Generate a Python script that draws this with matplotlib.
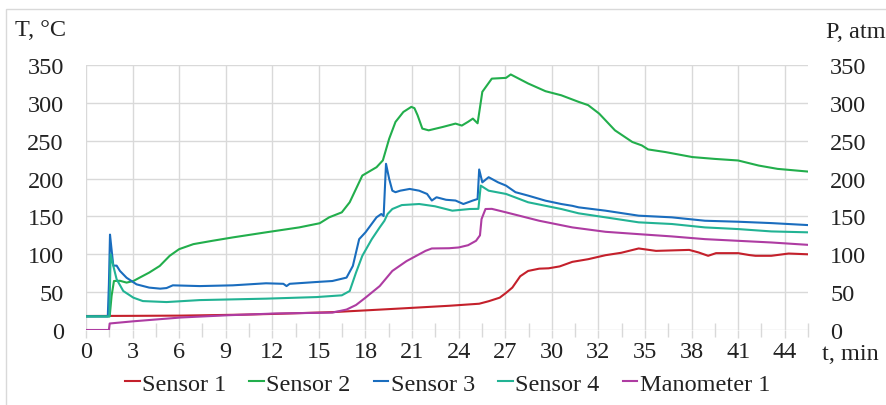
import matplotlib
matplotlib.use("Agg")
import matplotlib.pyplot as plt
from matplotlib.patches import Rectangle

# ---------------------------------------------------------------
# Measured temperatures (deg C) and pressure (atm) versus time (min)
# ---------------------------------------------------------------
SENSOR1_T = [0, 3, 6, 10, 12, 15.6, 17.7, 20, 23.0, 24.9, 25.5, 26.2, 26.6, 27.0, 27.5, 28.0, 28.7,
             29.3, 30.0, 30.8, 31.8, 32.9, 33.9, 35.0, 36.1, 38.2, 38.8, 39.4, 39.9, 41.3, 42.0,
             42.4, 43.4, 44.5, 45.7]
SENSOR1 = [18.5, 18.7, 19, 20.3, 21.3, 23.6, 25.9, 28.5, 32, 34.7, 38, 42.7, 49, 56, 71, 78, 81,
           81.5, 84, 90, 93.5, 98.8, 102, 107.7, 104.5, 105.8, 102.4, 98, 101.5, 101.5, 99,
           98, 98, 101, 100]

SENSOR2_T = [0, 1.5, 1.62, 1.77, 2.15, 2.57, 3.0, 3.4, 4.0, 4.67, 5.3, 5.9, 6.8, 8.0, 9.3, 11.4,
             13.5, 14.8, 15.4, 16.2, 16.7, 17.5, 18.4, 18.8, 19.2, 19.6, 20.1, 20.6, 20.8, 21.0,
             21.3, 21.7, 22.6, 23.4, 23.8, 24.2, 24.5, 24.8, 25.1, 25.7, 26.6, 26.9, 28.0, 29.1,
             30.1, 31.2, 31.8, 32.5, 33.5, 34.6, 35.2, 35.6, 36.7, 38.4, 39.8, 41.3, 42.6, 43.8,
             45.7]
SENSOR2 = [18, 18, 45, 64.7, 65, 62.6, 64.7, 69.2, 75.8, 84.6, 98, 106.8, 113.4, 117.8, 122.3, 129,
           135.5, 141, 148.8, 155.4, 168.7, 204, 215, 224, 252.6, 274.8, 288, 294.7, 293, 283.6,
           266, 263.7, 268.2, 272.6, 270, 275, 279.2, 273, 314.6, 332, 333, 337.5, 325.6, 315.4,
           310, 301.3, 297, 285.8, 263.7, 248.3, 243.8, 238.5, 235, 228.4, 226, 223.9, 217.2, 212.8,
           209.3]

SENSOR3_T = [0, 1.38, 1.45, 1.52, 1.6, 1.73, 1.94, 2.15, 2.57, 3.2, 4.0, 4.7, 5.1, 5.5, 7.2, 9.3,
             11.4, 12.5, 12.7, 12.9, 14.6, 15.6, 16.5, 16.9, 17.3, 17.7, 18.4, 18.7, 18.85, 19.0,
             19.2, 19.4, 19.6, 19.9, 20.5, 21.1, 21.6, 21.9, 22.2, 22.8, 23.4, 23.9, 24.5, 24.8,
             24.9, 25.1, 25.5, 26.1, 26.6, 27.2, 28.0, 29.1, 30.1, 30.8, 31.2, 32.9, 35.0, 37.1,
             39.2, 41.3, 43.4, 45.7]
SENSOR3 = [18, 18, 60, 126, 110, 85, 85, 78, 69, 60.3, 56, 54.6, 55.4, 59, 58, 59,
           61.7, 61, 58, 61, 63.4, 64.7, 69.2, 84.6, 120, 129, 148.8, 153.2, 150.5, 219.5,
           199.6, 184, 182, 184, 186.3, 184, 179.7, 171, 175.3, 172, 171, 166.4, 171, 173,
           212, 195, 201.8, 195, 190.7, 182, 177.5, 170.8, 166.4, 164, 162, 157.6, 151, 148.8,
           144.3, 143, 141.2, 138.6]

SENSOR4_T = [0, 1.48, 1.56, 1.73, 1.94, 2.36, 3.0, 3.6, 5.1, 7.2, 11.4, 14.6, 16.2, 16.7, 17.1,
             17.5, 18.1, 18.6, 18.9, 19.1, 19.4, 20.0, 21.1, 21.7, 22.1, 23.2, 24.3, 24.85, 25.0,
             25.5, 26.6, 28.0, 30.1, 31.2, 32.9, 35.0, 37.1, 39.2, 41.3, 43.4, 45.7]
SENSOR4 = [18, 18, 100, 84.6, 67, 51.5, 42.7, 38.2, 36.9, 39.5, 41.4, 43.5, 45.8, 51.5, 75.8,
           98, 120, 135.5, 144.3, 153.2, 159.8, 165, 166.4, 164.6, 163.4, 157.6, 159.8, 160, 190.7,
           184, 179.7, 168.7, 159.8, 154.1, 148.8, 142.2, 140, 135.5, 133.3, 130.2, 129]

MANOMETER1_T = [0, 1.45, 1.5, 3.0, 6.0, 9.0, 12.0, 15.6, 16.5, 17.1, 17.7, 18.6, 19.4, 20.3, 21.5,
                21.9, 23.0, 23.6, 24.2, 24.7, 24.95, 25.05, 25.3, 25.7, 26.6, 28.7, 30.8, 32.9,
                35.0, 37.1, 39.2, 41.3, 43.4, 45.7]
MANOMETER1 = [0, 0, 8.6, 11.5, 16.5, 19.5, 21.8, 23, 27, 33, 42.7, 58, 78, 91, 104.5,
              107.7, 108, 109, 112, 117.8, 125, 146.5, 159.8, 160, 155.4, 144.3, 135.5, 129.7,
              126.6, 123.6, 120, 117.8, 115.6, 112.5]

SERIES_NAMES = ["Sensor 1", "Sensor 2", "Sensor 3", "Sensor 4", "Manometer 1"]
X_TICK_LABELS = ["0", "3", "6", "9", "12", "15", "18", "21", "24", "27", "30", "32", "35", "38", "41", "44"]
Y_TICKS = [0, 50, 100, 150, 200, 250, 300, 350]

# Styling
COLORS = ["#C4202B", "#22AE4C", "#1A6DBE", "#22B394", "#AE3CA2"]
GRID_COLOR = "#D9D9D9"
TEXT_COLOR = "#222222"
FONT_SIZE = 17.5
TICK_STEP = 2.95  # minutes between labelled categories
LINE_WIDTH = 1.5

plt.rcParams["font.family"] = ["Liberation Serif", "DejaVu Serif"]
plt.rcParams["text.color"] = TEXT_COLOR
plt.rcParams["xtick.color"] = TEXT_COLOR
plt.rcParams["ytick.color"] = TEXT_COLOR


def style_axis(axis):
    for spine in axis.spines.values():
        spine.set_visible(False)
    axis.set_ylim(0, 350)
    axis.set_yticks(Y_TICKS)
    axis.tick_params(axis="y", length=0, pad=16, labelsize=FONT_SIZE)


def main():
    fig = plt.figure(figsize=(8.87, 4.06), dpi=100)
    ax = fig.add_axes([86 / 887, 1 - 331 / 406, (808 - 86) / 887, (331 - 66) / 406])
    style_axis(ax)

    # category-like time axis with labels every TICK_STEP minutes
    n = len(X_TICK_LABELS)
    ax.set_xlim(0, TICK_STEP * (n - 0.5))
    ax.set_xticks([i * TICK_STEP for i in range(n)])
    ax.set_xticklabels(X_TICK_LABELS)
    ax.set_xticks([(i + 0.5) * TICK_STEP for i in range(n)], minor=True)
    ax.tick_params(axis="x", which="major", length=6, width=1, color=GRID_COLOR,
                   direction="out", pad=2, labelsize=FONT_SIZE)
    ax.tick_params(axis="x", which="minor", length=10, width=1, color=GRID_COLOR,
                   direction="inout")
    ax.grid(True, which="major", color=GRID_COLOR, linewidth=1)
    ax.set_axisbelow(True)

    temps = [(SENSOR1_T, SENSOR1), (SENSOR2_T, SENSOR2), (SENSOR3_T, SENSOR3), (SENSOR4_T, SENSOR4)]
    handles = []
    for (t, v), name, color in zip(temps, SERIES_NAMES[:4], COLORS[:4]):
        line, = ax.plot(t, v, color=color, lw=LINE_WIDTH, label=name)
        handles.append(line)

    # pressure on the secondary axis (same 0..350 scale)
    ax2 = ax.twinx()
    style_axis(ax2)
    line, = ax2.plot(MANOMETER1_T, MANOMETER1, color=COLORS[4], lw=LINE_WIDTH, label=SERIES_NAMES[4])
    handles.append(line)

    fig.text(41 / 887, 1 - 31 / 406, "T, °C", ha="center", va="center", fontsize=FONT_SIZE)
    fig.text(856 / 887, 1 - 32 / 406, "P, atm", ha="center", va="center", fontsize=FONT_SIZE)
    fig.text(850 / 887, 1 - 354 / 406, "t, min", ha="center", va="center", fontsize=FONT_SIZE)

    fig.legend(handles, SERIES_NAMES, loc="center", bbox_to_anchor=(0.5045, 0.052), ncol=5,
               frameon=False, fontsize=FONT_SIZE, handlelength=0.6, handletextpad=0.1,
               columnspacing=0.95)

    # light frame around the chart area
    fig.patches.append(Rectangle((6 / 887, -0.1), 1.2, 1.1 - 10 / 406, transform=fig.transFigure,
                                 fill=False, edgecolor=GRID_COLOR, lw=1))

    fig.savefig("out.png", dpi=100)


if __name__ == "__main__":
    main()
